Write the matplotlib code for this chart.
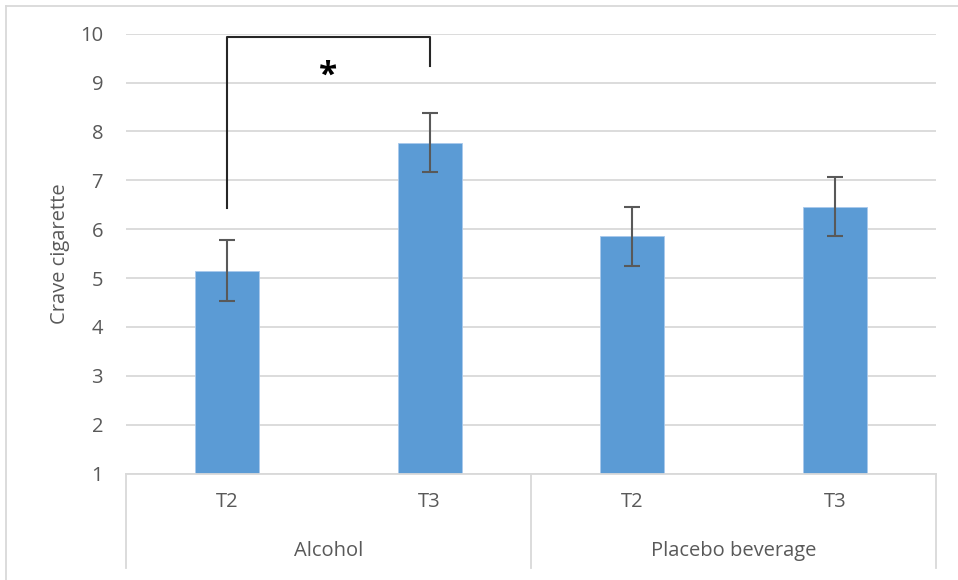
import matplotlib.pyplot as plt
import matplotlib.transforms as transforms
from matplotlib.lines import Line2D

plt.rcParams['font.family'] = ['Open Sans', 'DejaVu Sans']

# data
groups = ['Alcohol', 'Placebo beverage']
times = ['T2', 'T3', 'T2', 'T3']
crave = [5.15, 7.77, 5.85, 6.46]
crave_err = [0.62, 0.61, 0.60, 0.60]
ymin, ymax = 1, 10

textcol = '#595959'
gridcol = '#d9d9d9'
barcol = '#5b9bd5'
fs = 14.5

W, H = 958, 580
fig = plt.figure(figsize=(W / 100, H / 100), dpi=100)

# plot area in pixels
left, right = 126, 936
top, bottom = 33.7, 473.5
ax = fig.add_axes([left / W, 1 - bottom / H, (right - left) / W, (bottom - top) / H])

x = list(range(len(crave)))
ax.bar(x, [v - ymin for v in crave], bottom=ymin, width=0.316, color=barcol,
       edgecolor='#a9c9ec', linewidth=0.6, zorder=2)
ax.errorbar(x, crave, yerr=crave_err, fmt='none', ecolor='#595959',
            elinewidth=1.5, capsize=5.5, capthick=1.5, zorder=3)

ax.set_xlim(-0.5, len(crave) - 0.5)
ax.set_ylim(ymin, ymax)
ax.set_yticks(range(ymin, ymax + 1))
ax.yaxis.grid(True, color=gridcol, linewidth=1.3, zorder=0)
ax.set_axisbelow(True)
for s in ['top', 'right', 'left']:
    ax.spines[s].set_visible(False)
ax.spines['bottom'].set_color(gridcol)
ax.spines['bottom'].set_linewidth(1.3)
ax.tick_params(axis='y', length=0, labelsize=fs, labelcolor=textcol, pad=16.5)
ax.tick_params(axis='x', length=0, labelsize=fs, labelcolor=textcol, pad=13)
ax.set_xticks(x)
ax.set_xticklabels(times)
ax.set_ylabel('Crave cigarette', fontsize=fs, color=textcol, labelpad=7)

# group labels and separators under the category axis
trans = transforms.blended_transform_factory(ax.transData, ax.transAxes)
axh = bottom - top
sep_y = -(568 - bottom) / axh
for xs in [-0.5, 1.5, 3.5]:
    ax.add_line(Line2D([xs, xs], [0, sep_y], transform=trans, color=gridcol,
                       linewidth=1.3, clip_on=False))
for i, g in enumerate(groups):
    ax.text(2 * i + 0.5, -(551 - bottom) / axh, g, transform=trans, ha='center',
            va='center', fontsize=fs, color=textcol)

# significance bracket
ax.plot([0, 0, 1, 1], [6.43, 9.93, 9.93, 9.34], color='#262626', linewidth=1.5,
        zorder=4, clip_on=False)
ax.text(0.5, 9.12, '*', ha='center', va='center', fontsize=24, fontweight='bold',
        color='black')

# outer chart frame
fig.add_artist(Line2D([6 / W, 1], [1 - 6 / H, 1 - 6 / H], transform=fig.transFigure,
                      color=gridcol, linewidth=1.3))
fig.add_artist(Line2D([6 / W, 6 / W], [0, 1 - 6 / H], transform=fig.transFigure,
                      color=gridcol, linewidth=1.3))

fig.savefig('out.png', dpi=100)
